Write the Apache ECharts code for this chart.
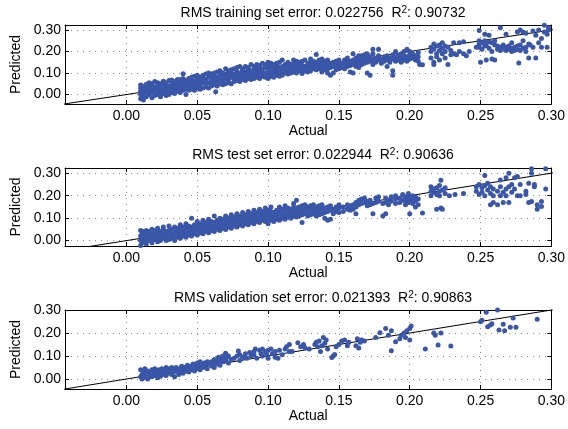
<!DOCTYPE html>
<html><head><meta charset="utf-8">
<script src="https://cdn.jsdelivr.net/npm/echarts@6/dist/echarts.min.js"></script>
<style>html,body{margin:0;padding:0;background:#fff}#c{width:568px;height:429px}</style>
</head><body><div id="c"></div>
<script>
// ---------- DATA ----------
const titles = [
  'RMS training set error: 0.022756  R{sup|2}: 0.90732',
  'RMS test set error: 0.022944  R{sup|2}: 0.90636',
  'RMS validation set error: 0.021393  R{sup|2}: 0.90863'
];
const xTicks = [0.00, 0.05, 0.10, 0.15, 0.20, 0.25, 0.30];
const yTicks = [0.00, 0.10, 0.20, 0.30];
const xRange = [-0.0434, 0.30];
const yRanges = [[-0.044, 0.323], [-0.024, 0.323], [-0.0435, 0.30]];
const refLine = [[-0.05, -0.05], [0.31, 0.31]];

// training set: columns [actual, predicted values...]
const trainingCols = [
[0.010,-0.045,-0.02,0.0,0.015,0.03,0.044],[0.011,-0.01,0.01,0.025,0.04],[0.012,-0.025,0.005,0.02,0.035],
[0.014,-0.01,0.012,0.03,0.048],[0.016,0.0,0.02,0.04,0.055],[0.018,-0.015,0.01,0.03,0.05],
[0.020,-0.005,0.015,0.035,0.06],[0.022,0.0,0.02,0.04,0.055],[0.024,-0.01,0.01,0.03,0.05],
[0.026,0.005,0.025,0.045,0.062],[0.028,-0.005,0.015,0.035,0.055],[0.030,0.0,0.02,0.04,0.065],
[0.032,0.01,0.03,0.05,0.068],[0.034,0.005,0.025,0.045,0.06],[0.036,0.015,0.035,0.055,0.07],
[0.038,0.01,0.03,0.05,0.07],[0.040,0.02,0.04,0.06,0.075,0.096],[0.042,0.0,0.025,0.045,0.065],
[0.044,0.02,0.035,0.055,0.075],[0.046,0.025,0.045,0.065,0.08],[0.048,0.02,0.04,0.06,0.085],
[0.050,0.03,0.05,0.07,0.09],[0.052,0.025,0.045,0.065,0.08],[0.054,0.03,0.055,0.075,0.09],
[0.056,0.035,0.05,0.07,0.095],[0.058,0.03,0.055,0.08,0.1],[0.060,0.04,0.06,0.075,0.095],
[0.062,0.045,0.065,0.085,0.1],[0.063,0.013],[0.064,0.04,0.06,0.08,0.105],[0.066,0.05,0.07,0.09,0.11],
[0.068,0.045,0.065,0.085,0.1],[0.070,0.05,0.075,0.095,0.12],[0.072,0.055,0.07,0.09,0.11],
[0.074,0.05,0.08,0.1,0.115],[0.076,0.06,0.075,0.095,0.12],[0.078,0.065,0.085,0.105,0.125],
[0.080,0.06,0.08,0.1,0.13],[0.082,0.07,0.09,0.11,0.12],[0.084,0.065,0.085,0.105,0.13],
[0.086,0.075,0.095,0.115,0.125],[0.088,0.07,0.09,0.11,0.14],[0.090,0.075,0.095,0.115,0.13],
[0.092,0.08,0.1,0.12,0.14],[0.094,0.075,0.095,0.115,0.135],[0.096,0.085,0.105,0.12,0.145],
[0.098,0.08,0.1,0.125,0.14],[0.100,0.075,0.095,0.115,0.135,0.15],[0.102,0.085,0.105,0.125,0.145],
[0.104,0.08,0.1,0.12,0.14],[0.106,0.09,0.11,0.13,0.145],[0.108,0.085,0.105,0.125,0.15],
[0.110,0.09,0.11,0.13,0.16],[0.112,0.1,0.12,0.14],[0.114,0.095,0.115,0.135,0.15],
[0.116,0.1,0.12,0.14],[0.118,0.105,0.125,0.145,0.16],[0.120,0.1,0.12,0.14,0.155],
[0.122,0.11,0.13,0.15],[0.124,0.098,0.115,0.135,0.155],[0.126,0.11,0.13,0.16],
[0.128,0.105,0.125,0.145],[0.130,0.11,0.13,0.15,0.165],[0.132,0.12,0.14,0.155],
[0.134,0.115,0.135,0.15,0.186],[0.136,0.12,0.14,0.16],[0.138,0.105,0.125,0.145,0.165],
[0.140,0.115,0.135,0.155],[0.142,0.1,0.12,0.14,0.16],[0.144,0.09,0.125,0.145],
[0.146,0.1,0.13,0.15],[0.148,0.115,0.135,0.155],[0.150,0.12,0.14,0.16],[0.152,0.125,0.145],
[0.154,0.12,0.14,0.16],[0.156,0.13,0.15,0.17],[0.158,0.105,0.135,0.155],[0.160,0.1,0.14,0.16,0.19],
[0.162,0.13,0.15,0.17],[0.164,0.125,0.145,0.165,0.18],[0.166,0.14,0.16,0.18],[0.168,0.145,0.165,0.185],
[0.170,0.1,0.15,0.17,0.19],[0.172,0.09,0.155,0.175],[0.174,0.14,0.16,0.19,0.21],[0.176,0.15,0.17],
[0.178,0.16,0.18,0.21],[0.180,0.145,0.165],[0.182,0.155,0.175],[0.184,0.13,0.16,0.18],
[0.186,0.15,0.17],[0.188,0.09,0.11,0.165,0.185],[0.190,0.155,0.175,0.2],[0.192,0.16,0.18],
[0.194,0.15,0.17,0.19],[0.196,0.16,0.18,0.2],[0.198,0.155,0.175,0.21],[0.200,0.165,0.185,0.2],
[0.202,0.17,0.19],[0.204,0.16,0.18],[0.206,0.155,0.175,0.195],[0.207,0.14],[0.209,0.138],
[0.215,0.2,0.22,0.17],[0.217,0.21,0.235,0.15,0.14],[0.219,0.19,0.225,0.175],[0.221,0.205,0.23,0.16],
[0.223,0.215,0.24,0.19],[0.225,0.2,0.225,0.17],[0.227,0.22,0.14],[0.229,0.205,0.185],
[0.231,0.24,0.19],[0.233,0.185],[0.235,0.24,0.2],[0.238,0.245,0.19],[0.240,0.18],[0.242,0.2],
[0.247,0.22],[0.249,0.297,0.25,0.235,0.22],[0.250,0.15],[0.251,0.24,0.21],[0.253,0.28,0.25,0.225],
[0.254,0.16,0.23],[0.256,0.275,0.245,0.215],[0.258,0.24,0.2,0.165],[0.260,0.23,0.16,0.25],
[0.262,0.21,0.225],[0.264,0.31,0.22,0.205],[0.266,0.215,0.23],[0.268,0.28,0.205,0.22],
[0.270,0.21,0.225],[0.272,0.24,0.215,0.2],[0.274,0.22,0.205],[0.276,0.29,0.225,0.21],[0.277,0.146],
[0.278,0.3,0.23,0.205],[0.280,0.29,0.215,0.25],[0.282,0.285,0.22,0.2],[0.284,0.17,0.235],[0.285,0.23],
[0.287,0.295,0.22],[0.289,0.17,0.275],[0.291,0.3,0.24],[0.293,0.26,0.22],[0.295,0.322,0.29],
[0.297,0.22,0.28],[0.298,0.30,0.31]
];

// test set
const testCols = [
[0.010,-0.022,0.0,0.02,0.045],[0.011,-0.01,0.01,0.03],[0.012,0.0,0.02,0.04],
[0.014,-0.015,0.005,0.025,0.045],[0.016,0.0,0.02,0.04],[0.018,-0.01,0.01,0.03,0.05],
[0.020,0.005,0.025,0.045],[0.022,-0.005,0.015,0.035,0.055],[0.024,0.0,0.02,0.04],
[0.026,0.01,0.03,0.05,0.06],[0.028,0.0,0.02,0.04],[0.030,0.005,0.025,0.045,0.065],
[0.032,0.01,0.03,0.05],[0.034,0.0,0.02,0.04,0.06],[0.036,0.015,0.035,0.055],
[0.038,0.01,0.03,0.05,0.07],[0.040,0.02,0.04,0.06],[0.042,0.015,0.035,0.055,0.075],
[0.044,0.025,0.045,0.065],[0.046,0.02,0.04,0.06,0.1],[0.048,0.03,0.05,0.07],
[0.050,0.025,0.045,0.065,0.085],[0.052,0.035,0.055,0.075],[0.054,0.03,0.05,0.07,0.09],
[0.056,0.04,0.06,0.08],[0.058,0.035,0.055,0.075,0.095],[0.060,0.045,0.065,0.085],
[0.062,0.04,0.06,0.08,0.11],[0.064,0.05,0.07,0.09],[0.066,0.045,0.065,0.085,0.1],
[0.068,0.055,0.075,0.095],[0.070,0.049,0.07,0.09,0.11],[0.072,0.06,0.08,0.1],
[0.074,0.055,0.075,0.095,0.115],[0.076,0.065,0.085,0.105],[0.078,0.06,0.08,0.1,0.12],
[0.080,0.07,0.09,0.11],[0.082,0.065,0.085,0.105,0.125],[0.084,0.075,0.095,0.115],
[0.086,0.07,0.09,0.11,0.13],[0.088,0.08,0.1,0.12],[0.090,0.075,0.095,0.115,0.135],
[0.092,0.085,0.105,0.125],[0.094,0.08,0.1,0.12,0.14],[0.096,0.09,0.11,0.13],
[0.098,0.085,0.105,0.125,0.145],[0.100,0.075,0.095,0.115,0.135],[0.102,0.09,0.11,0.13,0.15],
[0.104,0.085,0.105,0.125],[0.106,0.095,0.115,0.135],[0.108,0.09,0.11,0.13,0.15],
[0.110,0.1,0.12,0.14],[0.112,0.095,0.115,0.135,0.155],[0.114,0.105,0.125,0.145],
[0.116,0.1,0.12,0.14],[0.118,0.11,0.13,0.15,0.165],[0.120,0.105,0.125,0.145,0.179],
[0.122,0.11,0.13,0.15],[0.124,0.08,0.115,0.135,0.155],[0.126,0.12,0.14,0.16],
[0.128,0.11,0.13,0.15],[0.130,0.115,0.135,0.155],[0.132,0.12,0.14,0.16],
[0.134,0.11,0.13,0.15],[0.136,0.115,0.135,0.155],[0.138,0.12,0.14,0.16],
[0.140,0.1,0.125,0.145],[0.142,0.09,0.13,0.15],[0.144,0.095,0.135,0.155],
[0.146,0.12,0.14],[0.148,0.13,0.15],[0.150,0.125,0.145,0.16],[0.153,0.13,0.15],
[0.156,0.14,0.16],[0.158,0.135,0.155],[0.160,0.14,0.16],[0.162,0.12,0.15,0.17],
[0.164,0.16,0.18],[0.166,0.165,0.185],[0.168,0.17,0.19],[0.170,0.155,0.175],
[0.172,0.16,0.18],[0.174,0.12,0.165],[0.176,0.17,0.19],[0.178,0.175,0.195],
[0.181,0.11,0.165],[0.183,0.12,0.17,0.19],[0.185,0.16,0.18],[0.187,0.175,0.195],
[0.190,0.165,0.185,0.2],[0.193,0.17,0.19],[0.195,0.18,0.205],[0.197,0.16,0.175,0.195],
[0.199,0.17,0.19,0.21],[0.200,0.12,0.185],[0.202,0.165,0.18,0.2],[0.204,0.15,0.175,0.195],
[0.206,0.16,0.185],[0.209,0.123],[0.215,0.2,0.22,0.24],[0.217,0.215,0.23],
[0.219,0.14,0.205,0.235],[0.221,0.22,0.245,0.2],[0.222,0.268,0.145],[0.223,0.14,0.225],
[0.225,0.21,0.235],[0.228,0.2],[0.232,0.205],[0.238,0.21],[0.247,0.24,0.22],
[0.249,0.25,0.205],[0.251,0.235,0.215],[0.253,0.29,0.245,0.2],[0.255,0.225,0.255],
[0.257,0.16,0.21,0.24],[0.259,0.23,0.2,0.17],[0.262,0.16,0.22],[0.264,0.27,0.24,0.2],
[0.266,0.215,0.17],[0.268,0.28,0.23,0.2],[0.270,0.3,0.24,0.17],[0.272,0.25,0.215],
[0.274,0.28,0.23],[0.276,0.285,0.2],[0.278,0.2,0.25],[0.282,0.22,0.205],[0.284,0.17,0.255],
[0.286,0.32,0.3,0.174],[0.288,0.25,0.24],[0.290,0.16,0.14],[0.293,0.174,0.152],[0.296,0.32,0.23]
];

// validation set
const validationCols = [
[0.010,-0.045,0.01,0.04],[0.011,0.02,0.0],[0.012,0.005,0.03],[0.013,0.015,0.045],[0.014,0.025],
[0.015,0.0,0.035],[0.016,0.02],[0.017,0.03,0.01],[0.018,0.01,0.04],[0.019,0.025],[0.020,0.015,0.045],
[0.021,0.035],[0.022,0.02,0.005],[0.023,0.04],[0.024,0.03,0.012],[0.025,0.045,0.025],[0.026,0.02],
[0.027,0.035],[0.028,0.05,0.015],[0.029,0.03],[0.030,0.025,0.045],[0.031,0.035],[0.032,0.05,0.02],
[0.033,0.03],[0.034,0.04,0.01],[0.035,0.05],[0.036,0.03],[0.037,0.045,0.02],[0.038,0.035],
[0.039,0.055],[0.040,0.04,0.025],[0.041,0.05],[0.042,0.035],[0.043,0.06,0.045],[0.044,0.03],
[0.045,0.055],[0.046,0.04],[0.047,0.065,0.05],[0.048,0.035],[0.049,0.06],[0.050,0.07,0.045],
[0.051,0.055],[0.052,0.075,0.04],[0.053,0.06],[0.054,0.05],[0.055,0.07],[0.056,0.06],
[0.057,0.045,0.075],[0.058,0.065],[0.060,0.057,0.075],[0.061,0.065],[0.062,0.05,0.085],
[0.063,0.08],[0.064,0.065],[0.065,0.075,0.095],[0.066,0.06],[0.067,0.085],[0.068,0.1,0.075],
[0.069,0.09],[0.070,0.112,0.08],[0.071,0.095],[0.072,0.1,0.07],[0.074,0.085],[0.076,0.09],
[0.078,0.1],[0.079,0.122],[0.080,0.08,0.105],[0.082,0.095],[0.084,0.11],[0.085,0.09],
[0.087,0.115],[0.088,0.1],[0.090,0.12,0.105],[0.091,0.13],[0.092,0.09],[0.094,0.125],
[0.095,0.11],[0.096,0.13,0.1],[0.098,0.12],[0.099,0.105],[0.100,0.125,0.09],[0.102,0.13],
[0.103,0.11],[0.105,0.12,0.095],[0.107,0.09],[0.108,0.125],[0.110,0.105],[0.112,0.13],
[0.113,0.14],[0.115,0.15,0.12],[0.117,0.12],[0.121,0.158],[0.123,0.14],[0.125,0.15],
[0.126,0.136],[0.129,0.13],[0.133,0.15],[0.134,0.16],[0.135,0.14],[0.136,0.165],[0.137,0.12],
[0.138,0.145],[0.139,0.18],[0.140,0.155],[0.141,0.17],[0.142,0.13],[0.145,0.093],[0.146,0.1],
[0.147,0.107],[0.148,0.14],[0.150,0.15],[0.152,0.165],[0.154,0.17],[0.156,0.145],[0.157,0.16],
[0.162,0.145],[0.163,0.175],[0.164,0.135],[0.165,0.16],[0.166,0.17],[0.168,0.165],[0.176,0.18],
[0.179,0.201],[0.183,0.22],[0.185,0.19],[0.187,0.21,0.123],[0.190,0.162],[0.193,0.175],
[0.194,0.19],[0.196,0.2],[0.197,0.18],[0.198,0.21],[0.200,0.22,0.17],[0.201,0.23],[0.211,0.13],
[0.217,0.2],[0.218,0.19],[0.220,0.148],[0.222,0.2],[0.229,0.143],[0.250,0.249],[0.251,0.255],
[0.254,0.29],[0.255,0.227],[0.257,0.235],[0.258,0.24],[0.262,0.3],[0.263,0.213],[0.266,0.238],
[0.267,0.21],[0.271,0.225],[0.273,0.265],[0.275,0.225],[0.290,0.26]
];

// ---------- BUILD ----------
function expand(cols) {
  const out = [];
  cols.forEach(c => { for (let i = 1; i < c.length; i++) out.push([c[0], c[i]]); });
  return out;
}
const sets = [expand(trainingCols), expand(testCols), expand(validationCols)];

const FONT = '"Liberation Sans", Arial, Helvetica, sans-serif';
const FS = 14;
const gridTops = [25, 168, 310];
const gridHeights = [79, 78, 79];
const titleTops = [5, 147, 290];
const dotColor = '#3a56a8';

const grids = [], xAxes = [], yAxes = [], series = [], titleArr = [];
const splitStyle = { show: true, lineStyle: { color: '#8a8a8a', type: [1, 5], width: 1 } };
const lineStyleAxis = { show: true, onZero: false, lineStyle: { color: '#000', width: 1 } };
for (let i = 0; i < 3; i++) {
  grids.push({ left: 65, right: 12.5, top: gridTops[i], height: gridHeights[i], containLabel: false });
  titleArr.push({
    text: titles[i], left: 323, top: titleTops[i], textAlign: 'center', padding: 0,
    textStyle: { fontSize: FS, fontWeight: 'normal', color: '#000', fontFamily: FONT,
      rich: { sup: { fontSize: 10, fontFamily: FONT, color: '#000', verticalAlign: 'top', padding: [0, 0, 7, 0] } } }
  });
  xAxes.push({
    type: 'value', gridIndex: i, position: 'bottom', min: xRange[0], max: xRange[1],
    name: 'Actual', nameLocation: 'middle', nameGap: 19,
    nameTextStyle: { fontSize: FS, color: '#000', fontFamily: FONT },
    axisLine: lineStyleAxis,
    axisTick: { show: true, inside: true, length: 4, customValues: xTicks, lineStyle: { color: '#000' } },
    axisLabel: { show: true, margin: 5, customValues: xTicks, fontSize: FS, color: '#000', fontFamily: FONT,
      formatter: v => v.toFixed(2) },
    splitLine: splitStyle
  });
  xAxes.push({
    type: 'value', gridIndex: i, position: 'top', min: xRange[0], max: xRange[1],
    axisLine: lineStyleAxis,
    axisTick: { show: true, inside: true, length: 4, customValues: xTicks, lineStyle: { color: '#000' } },
    axisLabel: { show: false }, splitLine: { show: false }
  });
  yAxes.push({
    type: 'value', gridIndex: i, position: 'left', min: yRanges[i][0], max: yRanges[i][1],
    name: 'Predicted', nameLocation: 'middle', nameGap: 39,
    nameTextStyle: { fontSize: FS, color: '#000', fontFamily: FONT },
    axisLine: lineStyleAxis,
    axisTick: { show: true, inside: true, length: 4, customValues: yTicks, lineStyle: { color: '#000' } },
    axisLabel: { show: true, margin: 4, customValues: yTicks, fontSize: FS, color: '#000', fontFamily: FONT,
      formatter: v => v.toFixed(2) },
    splitLine: splitStyle
  });
  yAxes.push({
    type: 'value', gridIndex: i, position: 'right', min: yRanges[i][0], max: yRanges[i][1],
    axisLine: lineStyleAxis,
    axisTick: { show: true, inside: true, length: 4, customValues: yTicks, lineStyle: { color: '#000' } },
    axisLabel: { show: false }, splitLine: { show: false }
  });
  series.push({
    type: 'line', xAxisIndex: 2 * i, yAxisIndex: 2 * i, data: refLine, symbol: 'none', silent: true,
    clip: true, lineStyle: { color: '#000', width: 1 }, z: 2, animation: false
  });
  series.push({
    type: 'scatter', xAxisIndex: 2 * i, yAxisIndex: 2 * i, data: sets[i], symbol: 'circle',
    symbolSize: 5, itemStyle: { color: dotColor, opacity: 1 }, clip: true, z: 3, animation: false
  });
}

const chart = echarts.init(document.getElementById('c'), null, { renderer: 'canvas' });
chart.setOption({
  backgroundColor: '#fff', animation: false,
  title: titleArr, grid: grids, xAxis: xAxes, yAxis: yAxes, series: series
});
</script>
</body></html>
